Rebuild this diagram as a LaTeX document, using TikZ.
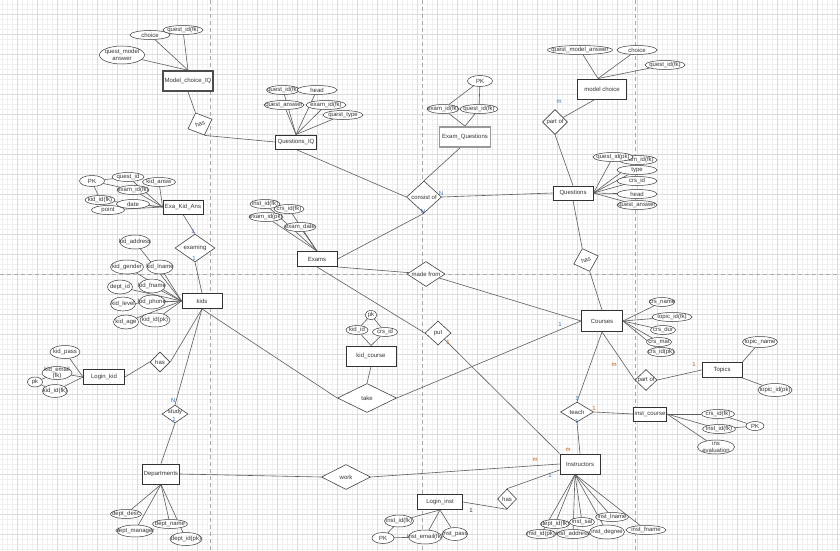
\documentclass[tikz,border=0pt]{standalone}
\usepackage{fontspec}
\setmainfont{Liberation Sans}
\usetikzlibrary{shapes.geometric}
\pgfdeclarelayer{bg}\pgfdeclarelayer{edges}
\pgfsetlayers{bg,edges,main}
\definecolor{txt}{HTML}{333333}
\definecolor{entc}{HTML}{333333}
\definecolor{attc}{HTML}{3A3A3A}
\definecolor{relc}{HTML}{444444}
\definecolor{lnc}{HTML}{5E5E5E}
\definecolor{gmajc}{HTML}{DCDCDC}
\definecolor{gminc}{HTML}{F0F0F0}
\definecolor{pgc}{HTML}{AAAAAA}
\definecolor{cblue}{HTML}{3F74B8}
\definecolor{corange}{HTML}{B8651E}
\newcommand\mkatt[6]{\node[att,minimum width=#4pt,minimum height=#5pt,label={[align=center]center:#6}] (#1) at (#2,#3) {};}
\begin{document}
\begin{tikzpicture}[x=1pt,y=-1pt,
  every node/.style={font=\fontsize{6}{6.5}\selectfont, text=txt},
  ent/.style={rectangle, draw=entc, line width=0.9pt, fill=white, inner sep=0pt},
  entdark/.style={draw=black!70, line width=1.5pt},
  entgray/.style={draw=black!40, line width=1.8pt},
  att/.style={ellipse, draw=attc, line width=0.5pt, fill=white, inner sep=0pt},
  rel/.style={diamond, draw=relc, line width=0.6pt, fill=white, inner sep=0pt},
  ln/.style={draw=lnc, line width=0.6pt},
  gmaj/.style={draw=gmajc, line width=0.5pt},
  gmin/.style={draw=gminc, line width=0.3pt},
  pgline/.style={draw=pgc, line width=0.5pt, dash pattern=on 4pt off 3pt},
  cb/.style={text=cblue, inner sep=0pt},
  co/.style={text=corange, inner sep=0pt},
  ck/.style={text=txt, inner sep=0pt}]
\useasboundingbox (0,0) rectangle (840,551);

% ---------------- entities ----------------
\node[ent, entdark, minimum width=50pt, minimum height=20pt] (mciq) at (188,81) {Model\_choice\_IQ};
\node[ent, minimum width=41pt, minimum height=14pt] (qiq) at (296,142) {Questions\_IQ};
\node[ent, entgray, minimum width=51pt, minimum height=20pt] (eq) at (465,137) {Exam\_Questions};
\node[ent, minimum width=49pt, minimum height=20pt] (mc) at (602,89) {model choice};
\node[ent, minimum width=40pt, minimum height=14pt] (qs) at (573,193) {Questions};
\node[ent, minimum width=40pt, minimum height=14pt] (eka) at (183,207) {Exa\_Kid\_Ans};
\node[ent, minimum width=40pt, minimum height=15pt] (ex) at (317,259) {Exams};
\node[ent, minimum width=40pt, minimum height=15pt] (kids) at (202,301) {kids};
\node[ent, minimum width=41pt, minimum height=21pt] (crs) at (602,321) {Courses};
\node[ent, minimum width=50pt, minimum height=20pt] (kc) at (371,356) {kid\_course};
\node[ent, minimum width=41pt, minimum height=15pt] (lk) at (104,377) {Login\_kid};
\node[ent, minimum width=40pt, minimum height=15pt] (top) at (722,370) {Topics};
\node[ent, minimum width=33pt, minimum height=14pt] (ic) at (650,414) {inst\_course};
\node[ent, minimum width=40pt, minimum height=20pt] (ins) at (580,464) {Instructors};
\node[ent, minimum width=37pt, minimum height=20pt] (dep) at (161,474) {Departments};
\node[ent, minimum width=45pt, minimum height=15pt] (li) at (440,502) {Login\_inst};

% ---------------- relationships ----------------
\node[rel, minimum width=26pt, minimum height=24pt, rotate=22, label={[rotate=22]center:has}] (r1) at (200,124) {};
\node[rel, minimum width=35pt, minimum height=32pt, label={center:consist of}] (r2) at (424,197) {};
\node[rel, minimum width=25pt, minimum height=25pt, label={center:part of}] (r3) at (555,122) {};
\node[rel, minimum width=26pt, minimum height=24pt, rotate=18, label={[rotate=18]center:has}] (r4) at (586,260) {};
\node[rel, minimum width=40pt, minimum height=28pt, label={center:examing}] (r5) at (195,248) {};
\node[rel, minimum width=38pt, minimum height=25pt, label={center:made from}] (r6) at (426,274) {};
\node[rel, minimum width=26pt, minimum height=24pt, label={center:put}] (r7) at (438,333) {};
\node[rel, minimum width=59pt, minimum height=29pt, label={center:take}] (r8) at (367,398) {};
\node[rel, minimum width=22pt, minimum height=21pt, label={center:part of}] (r9) at (646,380) {};
\node[rel, minimum width=33pt, minimum height=20pt, label={center:teach}] (r10) at (577,412) {};
\node[rel, minimum width=20pt, minimum height=20pt, label={center:has}] (r11) at (160,362) {};
\node[rel, minimum width=26pt, minimum height=18pt, label={[yshift=2pt]center:study}] (r12) at (175,414) {};
\node[rel, minimum width=49pt, minimum height=25pt, label={center:work}] (r13) at (346,477) {};
\node[rel, minimum width=19pt, minimum height=20pt, label={center:has}] (r14) at (507,499) {};

% ---------------- attributes ----------------
\mkatt{mq1}{150}{35}{40}{9}{choice}
\mkatt{mq2}{183}{30}{40}{9}{quest\_id(fk)}
\mkatt{mq3}{122}{55}{45}{18}{quest\_model\\answer}

\mkatt{qi1}{283}{90}{33}{9}{quest\_id(fk)}
\mkatt{qi2}{317}{90}{40}{9}{head}
\mkatt{qi3}{284}{105}{40}{9}{quest\_answer}
\mkatt{qi4}{326}{105}{40}{9}{exam\_id(fk)}
\mkatt{qi5}{343}{115}{40}{9}{quest\_type}

\mkatt{eq0}{480}{81}{25}{11}{PK}
\mkatt{eq1}{443}{109}{32}{9}{exam\_id(fk)}
\mkatt{eq2}{479}{109}{38}{9}{quest\_id(fk)}

\mkatt{mc1}{580}{50}{65}{9}{quest\_model\_answer}
\mkatt{mc2}{637}{50}{40}{9}{choice}
\mkatt{mc3}{665}{65}{40}{9}{quest\_id(fk)}

\mkatt{qs2}{638}{160}{38}{9}{exam\_id(fk)}
\mkatt{qs1}{613}{157}{40}{9}{quest\_id(pk)}
\mkatt{qs3}{637}{170}{40}{9}{type}
\mkatt{qs4}{637}{181}{40}{9}{crs\_id}
\mkatt{qs5}{637}{194}{40}{9}{head}
\mkatt{qs6}{637}{205}{40}{9}{quest\_answer}

\mkatt{ek0}{92}{181}{25}{11}{PK}
\mkatt{ek1}{128}{177}{32}{9}{quest\_id}
\mkatt{ek2}{159}{182}{33}{9}{kid\_answ}
\mkatt{ek3}{133}{190}{32}{9}{exam\_id(fk)}
\mkatt{ek4}{100}{200}{30}{9}{kid\_id(fk)}
\mkatt{ek6}{108}{210}{33}{9}{point}
\mkatt{ek5}{133}{204}{33}{9}{date}

\mkatt{ex1}{265}{204}{30}{9}{inst\_id(fk)}
\mkatt{ex2}{289}{209}{30}{9}{crs\_id(fk)}
\mkatt{ex3}{266}{217}{34}{9}{exam\_id(pk)}
\mkatt{ex4}{300}{227}{32}{9}{exam\_date}

\mkatt{kd1}{135}{242}{30}{14}{kid\_address}
\mkatt{kd2}{127}{267}{33}{14}{kid\_gender}
\mkatt{kd3}{160}{267}{26}{14}{kid\_lname}
\mkatt{kd4}{120}{287}{25}{14}{dept\_id}
\mkatt{kd5}{152}{286}{26}{14}{kid\_fname}
\mkatt{kd6}{123}{304}{25}{14}{kid\_level}
\mkatt{kd7}{152}{302}{26}{14}{kid\_phone}
\mkatt{kd8}{126}{322}{25}{14}{kid\_age}
\mkatt{kd9}{155}{320}{30}{14}{kid\_id(pk)}

\mkatt{cr1}{662}{302}{25}{9}{crs\_name}
\mkatt{cr2}{672}{317}{40}{9}{topic\_id(fk)}
\mkatt{cr3}{663}{330}{25}{9}{crs\_dur}
\mkatt{cr4}{659}{342}{25}{9}{crs\_mat}
\mkatt{cr5}{661}{352}{27}{9}{crs\_id(pk)}

\mkatt{kc0}{371}{315}{12}{9}{pk}
\mkatt{kc1}{357}{330}{22}{9}{kid\_id}
\mkatt{kc2}{385}{332}{25}{9}{crs\_id}

\mkatt{lk1}{65}{352}{30}{13}{kid\_pass}
\mkatt{lk2}{57}{373}{30}{13}{kid\_email\\(fk)}
\mkatt{lk0}{35}{382}{15}{10}{pk}
\mkatt{lk3}{55}{391}{25}{13}{kid\_id(fk)}

\mkatt{tp1}{760}{342}{35}{11}{topic\_name}
\mkatt{tp2}{775}{390}{34}{13}{topic\_id(pk)}

\mkatt{ic1}{718}{414}{33}{9}{crs\_id(fk)}
\mkatt{ic2}{719}{429}{33}{9}{inst\_id(fk)}
\mkatt{ic0}{755}{426}{18}{9}{PK}
\mkatt{ic3}{716}{447}{37}{14}{ins\\evaluation}

\mkatt{in4}{612}{517}{33}{9}{inst\_lname}
\mkatt{in3}{582}{522}{25}{9}{inst\_sal}
\mkatt{in2}{555}{524}{29}{9}{dept\_id(fk)}
\mkatt{in1}{541}{534}{30}{9}{inst\_id(pk)}
\mkatt{in5}{573}{534}{32}{9}{inst\_address}
\mkatt{in6}{607}{532}{35}{14}{inst\_degree}
\mkatt{in7}{646}{530}{40}{9}{inst\_fname}

\mkatt{dp1}{126}{514}{31}{9}{dept\_desc}
\mkatt{dp2}{135}{531}{36}{12}{dept\_manager}
\mkatt{dp3}{170}{524}{35}{9}{dept\_name}
\mkatt{dp4}{186}{539}{32}{13}{dept\_id(pk)}

\mkatt{li1}{399}{521}{29}{12}{inst\_id(fk)}
\mkatt{li0}{383}{538}{22}{11}{PK}
\mkatt{li2}{425}{537}{33}{14}{inst\_email(fk)}
\mkatt{li3}{455}{534}{25}{13}{inst\_pass}

% ---------------- cardinality labels ----------------
\node[cb] (c1) at (559,102) {m};
\node[cb] (c2) at (441,193) {N};
\node[cb] (c3) at (423,211) {N};
\node[cb] (c4) at (193,231) {1};
\node[cb] (c5) at (194,258) {1};
\node[cb] (c6) at (560,324) {1};
\node[co] (c7) at (448,342) {1};
\node[co] (c8) at (614,365) {m};
\node[co] (c9) at (694,364) {1};
\node[cb] (c10) at (577,398) {1};
\node[co] (c11) at (594,408) {1};
\node[cb] (c12) at (577,421) {1};
\node[co] (c13) at (568,450) {m};
\node[co] (c14) at (535,460) {m};
\node[cb] (c15) at (550,475) {1};
\node[ck] (c16) at (471,510) {1};
\node[cb] (c17) at (173,400) {N};
\node[cb] (c18) at (174,419) {1};

% ---------------- background grid ----------------
\begin{pgfonlayer}{bg}
\fill[white] (0,0) rectangle (840,551);
\foreach \x in {2.3,7.3,...,840} \draw[gmin] (\x,0) -- (\x,551);
\foreach \y in {4,9,...,551} \draw[gmin] (0,\y) -- (840,\y);
\foreach \x in {17.3,37.3,...,840} \draw[gmaj] (\x,0) -- (\x,551);
\foreach \y in {14,34,...,551} \draw[gmaj] (0,\y) -- (840,\y);
\draw[pgline] (210.7,0) -- (210.7,551);
\draw[pgline] (422.3,0) -- (422.3,551);
\draw[pgline] (635.7,0) -- (635.7,551);
\draw[pgline] (0,274.3) -- (840,274.3);
\end{pgfonlayer}

% ---------------- connectors ----------------
\begin{pgfonlayer}{edges}
\foreach \a in {mq1,mq2,mq3} \draw[ln] (\a) -- (mciq.north);
\foreach \a in {qi1,qi2,qi3,qi4,qi5} \draw[ln] (\a) -- (qiq.north);
\draw[ln] (eq0) -- (eq1);
\draw[ln] (eq0) -- (eq2);
\foreach \a in {eq1,eq2} \draw[ln] (\a) -- (eq.north);
\foreach \a in {mc1,mc2,mc3} \draw[ln] (\a) -- ([xshift=-4pt]mc.north);
\foreach \a in {qs1,qs2,qs3,qs4,qs5,qs6} \draw[ln] (\a) -- (qs.east);
\draw[ln] (ek0) -- (ek1);
\draw[ln] (ek0) -- (ek3);
\draw[ln] (ek0) -- (ek4);
\foreach \a in {ek1,ek2,ek3,ek4,ek5,ek6} \draw[ln] (\a) -- (eka.west);
\foreach \a in {ex1,ex2,ex3,ex4} \draw[ln] (\a) -- (ex.north);
\foreach \a in {kd1,kd2,kd3,kd4,kd5,kd6,kd7,kd8,kd9} \draw[ln] (\a) -- (kids.west);
\foreach \a in {cr1,cr2,cr3,cr4,cr5} \draw[ln] (\a) -- (crs.east);
\draw[ln] (kc0) -- (kc1);
\draw[ln] (kc0) -- (kc2);
\foreach \a in {kc1,kc2} \draw[ln] (\a) -- (kc.north);
\foreach \a in {lk1,lk2,lk3} \draw[ln] (\a) -- (lk.west);
\draw[ln] (lk0) -- (lk2);
\draw[ln] (lk0) -- (lk3);
\draw[ln] (top.north east) -- (tp1);
\draw[ln] (top.south east) -- (tp2);
\foreach \a in {ic1,ic2,ic3} \draw[ln] (\a) -- (ic.east);
\draw[ln] (ic1) -- (ic0);
\draw[ln] (ic2) -- (ic0);
\foreach \a in {in1,in2,in3,in4,in5,in6,in7} \draw[ln] (\a) -- ([xshift=-5pt]ins.south);
\foreach \a in {dp1,dp2,dp3,dp4} \draw[ln] (\a) -- (dep.south);
\foreach \a in {li1,li2,li3} \draw[ln] (\a) -- (li.south);
\draw[ln] (li1) -- (li0);
\draw[ln] (li0) -- (li2);

% relationships
\draw[ln] (mciq.south) -- (r1.north);
\draw[ln] (r1.south) -- (qiq.west);
\draw[ln] (qiq.south) -- (r2.west);
\draw[ln] ([xshift=-5pt]eq.south) -- (r2.north);
\draw[ln] (r2.east) -- (qs.west);
\draw[ln] (ex.east) -- (r2.south);
\draw[ln] (ex.south east) -- (r6);
\draw[ln] (r6) -- (crs.west);
\draw[ln] ([xshift=-7pt]mc.south) -- (r3);
\draw[ln] (r3.south) -- (qs.north);
\draw[ln] (qs.south) -- (r4.north);
\draw[ln] (r4.south) -- (crs.north);
\draw[ln] (eka.south) -- (r5.north);
\draw[ln] (r5.south) -- (kids.north);
\draw[ln] (kids.south) -- (r8.west);
\draw[ln] (r8.east) -- (crs.west);
\draw[ln] (kc.south) -- (r8.north);
\draw[ln] (ex.south) -- (r7.west);
\draw[ln] (r7) -- (ins.north west);
\draw[ln] (crs.south) -- (r10.north);
\draw[ln] (r10.south) -- (ins.north);
\draw[ln] (crs.south) -- (r9.west);
\draw[ln] (r9.east) -- (top.west);
\draw[ln] (r10.east) -- (ic.west);
\draw[ln] (lk.east) -- (r11.west);
\draw[ln] (r11.east) -- (kids.south);
\draw[ln] (kids.south) -- (r12.north);
\draw[ln] (r12.south) -- (dep.north);
\draw[ln] (dep.east) -- (r13.west);
\draw[ln] (r13.east) -- (ins.west);
\draw[ln] (li.east) -- (r14.south);
\draw[ln] (r14.north) -- ([yshift=-6pt]ins.west);
\end{pgfonlayer}
\end{tikzpicture}
\end{document}
